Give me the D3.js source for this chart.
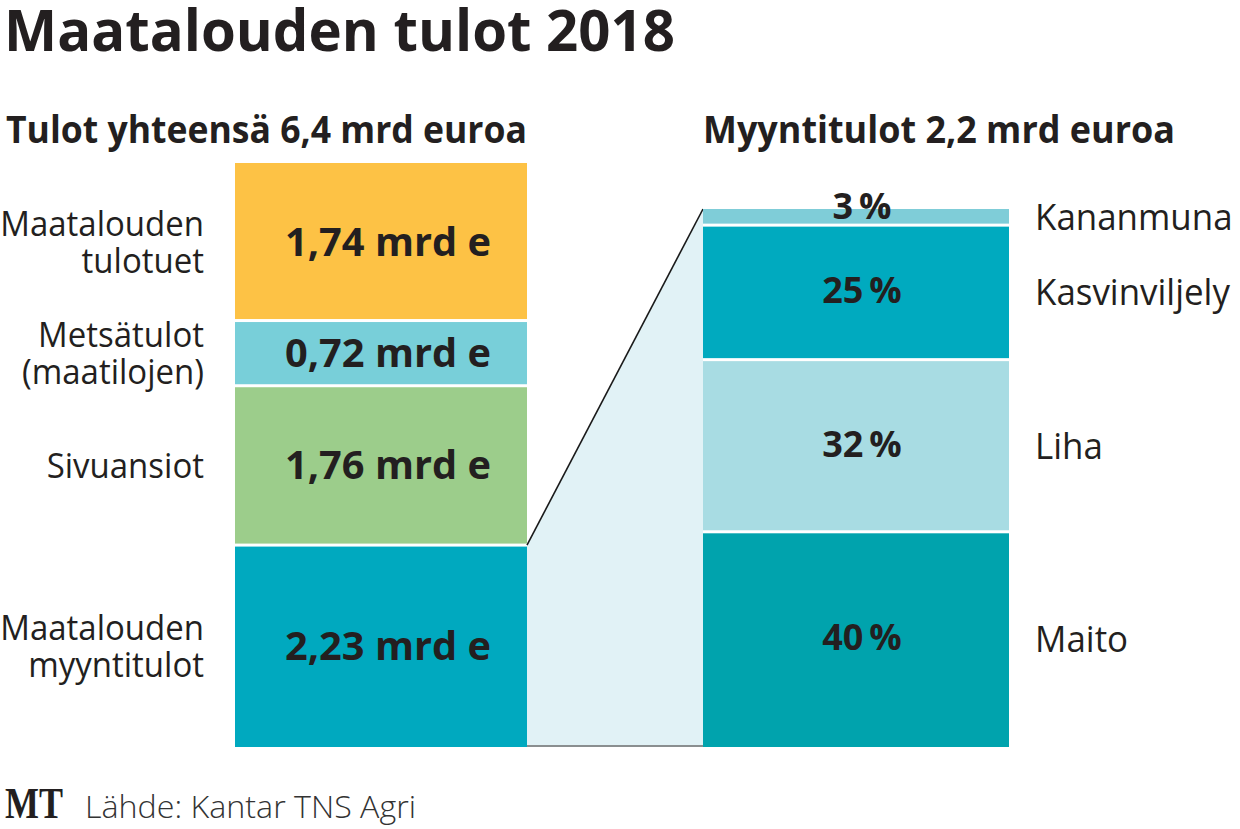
<!DOCTYPE html>
<html>
<head>
<meta charset="utf-8">
<script src="https://cdn.jsdelivr.net/npm/d3@7"></script>
<style>
  html, body { margin: 0; padding: 0; background: #fff; }
  svg { display: block; }
  text { fill: #231f20; }
</style>
</head>
<body>
<svg id="chart" width="1240" height="829"></svg>
<script>
  // --- data ---
  var titleText = 'Maatalouden tulot 2018';
  var leftTitle = 'Tulot yhteensä 6,4 mrd euroa';
  var rightTitle = 'Myyntitulot 2,2 mrd euroa';
  var sourceText = 'Lähde: Kantar TNS Agri';

  // total income, billion euros (top to bottom)
  var incomeLabels = [['Maatalouden', 'tulotuet'], ['Metsätulot', '(maatilojen)'], ['Sivuansiot'], ['Maatalouden', 'myyntitulot']];
  var incomeValues = [1.74, 0.72, 1.76, 2.23];
  var incomeColors = ['#fdc245', '#78cfd9', '#9ccd8b', '#00a9bf'];

  // sales income, percent (top to bottom)
  var salesLabels = ['Kananmuna', 'Kasvinviljely', 'Liha', 'Maito'];
  var salesValues = [3, 25, 32, 40];
  var salesColors = ['#7fcdd8', '#00aabf', '#a8dce3', '#00a3ad'];

  var SANS = '"Open Sans", "DejaVu Sans", sans-serif';
  var fmt = d3.format('.2f');
  function mrd(v) { return fmt(v).replace('.', ',') + ' mrd e'; }

  var svg = d3.select('#chart').style('font-family', SANS);

  // stack helper: returns [{v, y0, y1}] from top
  function stack(values) {
    var acc = 0;
    return values.map(function(v, i) {
      var d = { i: i, v: v, y0: acc, y1: acc + v };
      acc += v;
      return d;
    });
  }

  var leftData = stack(incomeValues);
  var rightData = stack(salesValues);

  var bottom = 747;
  var yL = d3.scaleLinear().domain([0, d3.sum(incomeValues)]).range([163, bottom]);
  var yR = d3.scaleLinear().domain([0, d3.sum(salesValues)]).range([209, bottom]);
  var xL = [235, 527];
  var xR = [703, 1009];
  var gap = 3;

  // squeeze / stretch text horizontally to mimic the condensed face
  function condense(sel, k) {
    sel.each(function() {
      var w = this.getComputedTextLength();
      d3.select(this).attr('textLength', w * k).attr('lengthAdjust', 'spacingAndGlyphs');
    });
  }

  // connector between the bars
  var last = leftData[leftData.length - 1];
  var conn = [
    [xL[1], yL(last.y0)],
    [xR[0], yR(0)],
    [xR[0], yR.range()[1]],
    [xL[1], yL.range()[1]]
  ];
  svg.append('path')
    .attr('d', d3.line()(conn) + 'Z')
    .attr('fill', '#e1f2f6');
  svg.append('line')
    .attr('x1', conn[0][0]).attr('y1', conn[0][1])
    .attr('x2', conn[1][0]).attr('y2', conn[1][1])
    .attr('stroke', '#1a1a1a').attr('stroke-width', 1.6);
  svg.append('line')
    .attr('x1', conn[3][0]).attr('y1', bottom - 1)
    .attr('x2', conn[2][0]).attr('y2', bottom - 1)
    .attr('stroke', '#8a8f90').attr('stroke-width', 2);

  // left bar
  var gL = svg.append('g');
  gL.selectAll('rect').data(leftData).enter().append('rect')
    .attr('x', xL[0])
    .attr('width', xL[1] - xL[0])
    .attr('y', function(d) { return yL(d.y0) + (d.i > 0 ? gap / 2 : 0); })
    .attr('height', function(d) { return yL(d.y1) - yL(d.y0) - (d.i > 0 ? gap / 2 : 0) - (d.i < leftData.length - 1 ? gap / 2 : 0); })
    .attr('fill', function(d) { return incomeColors[d.i]; });

  gL.selectAll('text.val').data(leftData).enter().append('text')
    .attr('class', 'val')
    .attr('x', 388)
    .attr('y', function(d) { return (yL(d.y0) + yL(d.y1)) / 2; })
    .attr('dy', '0.36em')
    .attr('text-anchor', 'middle')
    .attr('font-size', 39)
    .attr('font-weight', 700)
    .text(function(d) { return mrd(d.v); })
    .call(condense, 1.02);

  // one text per label line
  var lineH = 37;
  var labLines = [];
  leftData.forEach(function(d) {
    var lines = incomeLabels[d.i];
    var mid = (yL(d.y0) + yL(d.y1)) / 2;
    lines.forEach(function(s, j) {
      labLines.push({ s: s, y: mid + (j - (lines.length - 1) / 2) * lineH });
    });
  });
  gL.selectAll('text.lab').data(labLines).enter().append('text')
    .attr('class', 'lab')
    .attr('text-anchor', 'end')
    .attr('x', 204)
    .attr('y', function(d) { return d.y; })
    .attr('dy', '0.36em')
    .attr('font-size', 34)
    .text(function(d) { return d.s; })
    .call(condense, 0.97);

  // right bar
  var gR = svg.append('g');
  gR.selectAll('rect').data(rightData).enter().append('rect')
    .attr('x', xR[0])
    .attr('width', xR[1] - xR[0])
    .attr('y', function(d) { return yR(d.y0) + (d.i > 0 ? gap / 2 : 0); })
    .attr('height', function(d) { return yR(d.y1) - yR(d.y0) - (d.i > 0 ? gap / 2 : 0) - (d.i < rightData.length - 1 ? gap / 2 : 0); })
    .attr('fill', function(d) { return salesColors[d.i]; });

  function pctY(d) {
    var h = yR(d.y1) - yR(d.y0);
    if (h < 30) return yR(d.y1) - 6;
    return (yR(d.y0) + yR(d.y1)) / 2 + 11;
  }

  gR.selectAll('text.val').data(rightData).enter().append('text')
    .attr('class', 'val')
    .attr('x', 862)
    .attr('y', pctY)
    .attr('text-anchor', 'middle')
    .attr('font-size', 36)
    .attr('font-weight', 700)
    .text(function(d) { return d.v + '\u2009%'; })
    .call(condense, 1.0);

  gR.selectAll('text.lab').data(rightData).enter().append('text')
    .attr('class', 'lab')
    .attr('x', 1035)
    .attr('y', function(d) { return (yR(d.y0) + yR(d.y1)) / 2; })
    .attr('dy', '0.36em')
    .attr('font-size', 36)
    .text(function(d) { return salesLabels[d.i]; })
    .call(condense, 0.97);

  // titles
  svg.append('text')
    .attr('x', 4).attr('y', 51)
    .attr('font-size', 57).attr('font-weight', 700)
    .text(titleText)
    .attr('textLength', 671).attr('lengthAdjust', 'spacingAndGlyphs');

  svg.append('text')
    .attr('x', 6).attr('y', 143)
    .attr('font-size', 37).attr('font-weight', 700)
    .text(leftTitle)
    .attr('textLength', 521).attr('lengthAdjust', 'spacingAndGlyphs');

  svg.append('text')
    .attr('x', 703).attr('y', 143)
    .attr('font-size', 37).attr('font-weight', 700)
    .text(rightTitle)
    .attr('textLength', 472).attr('lengthAdjust', 'spacingAndGlyphs');

  // footer
  svg.append('text')
    .attr('x', 5).attr('y', 818)
    .style('font-family', '"Liberation Serif", "DejaVu Serif", serif')
    .attr('font-size', 44).attr('font-weight', 700)
    .text('MT')
    .attr('textLength', 58).attr('lengthAdjust', 'spacingAndGlyphs');

  svg.append('text')
    .attr('x', 85).attr('y', 818)
    .attr('font-size', 32).attr('font-weight', 300)
    .style('fill', '#333')
    .text(sourceText)
    .attr('textLength', 331).attr('lengthAdjust', 'spacingAndGlyphs');
</script>
</body>
</html>
